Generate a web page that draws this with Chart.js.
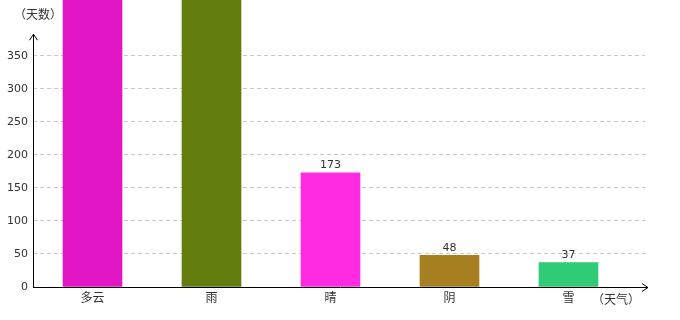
<!DOCTYPE html>
<html>
<head>
<meta charset="utf-8">
<script src="https://cdn.jsdelivr.net/npm/chart.js@4"></script>
<style>
  html, body { margin: 0; padding: 0; background: #fff; }
  #wrap { width: 680px; height: 320px; }
</style>
</head>
<body>
<div id="wrap"><canvas id="weather-chart" width="680" height="320"></canvas></div>
<script>
// weather categories and number of days
const categories = ["多云", "雨", "晴", "阴", "雪"];
const days = [460, 440, 173, 48, 37];
const barColors = ["#E316C6", "#627D0E", "#FF2BE3", "#A67F20", "#2FCB76"];
const yTicks = [0, 50, 100, 150, 200, 250, 300, 350];

const FONT = "'DejaVu Sans', 'Noto Sans CJK SC', sans-serif";
const CJK_FONT = "'Noto Sans CJK SC', sans-serif";
const AXIS_TOP = 383; // value where the y axis arrow ends

// axes with arrows, axis titles, and value labels above bars
const decorPlugin = {
  id: "decor",
  afterDatasetsDraw(chart) {
    const ctx = chart.ctx;
    const y = chart.scales.y;
    const left = chart.chartArea.left;
    const bottom = y.getPixelForValue(0);
    const top = y.getPixelForValue(AXIS_TOP);
    const right = chart.chartArea.right + 3;

    ctx.save();
    ctx.strokeStyle = "#000";
    ctx.lineWidth = 1;
    ctx.beginPath();
    ctx.moveTo(left + 0.5, bottom);
    ctx.lineTo(left + 0.5, top);
    ctx.moveTo(left - 3.5, top + 6);
    ctx.lineTo(left + 0.5, top);
    ctx.lineTo(left + 4.5, top + 6);
    ctx.moveTo(left, bottom + 0.5);
    ctx.lineTo(right, bottom + 0.5);
    ctx.moveTo(right - 6, bottom - 3.5);
    ctx.lineTo(right, bottom + 0.5);
    ctx.lineTo(right - 6, bottom + 4.5);
    ctx.stroke();

    ctx.fillStyle = "#333";
    ctx.font = "12px " + CJK_FONT;
    ctx.textBaseline = "middle";
    ctx.textAlign = "left";
    ctx.fillText("（天数）", 14, 14);
    ctx.fillText("（天气）", 592, 299);

    // value labels for the bars that fit inside the axis
    ctx.font = "11px " + FONT;
    ctx.textAlign = "center";
    ctx.textBaseline = "bottom";
    chart.getDatasetMeta(0).data.forEach((bar, i) => {
      if (days[i] <= AXIS_TOP) {
        ctx.fillText(String(days[i]), bar.x, bar.y - 2);
      }
    });
    ctx.restore();
  }
};

new Chart(document.getElementById("weather-chart"), {
  type: "bar",
  data: {
    datasets: [{
      data: days.map((v, i) => ({ x: i, y: v })),
      backgroundColor: barColors,
      borderWidth: 0,
      barThickness: 59
    }]
  },
  options: {
    responsive: false,
    animation: false,
    layout: { padding: { top: 0, right: 35, left: 0, bottom: 0 } },
    plugins: {
      legend: { display: false },
      tooltip: { enabled: false }
    },
    scales: {
      x: {
        type: "linear",
        offset: false,
        min: -0.5,
        max: 4.643,
        afterBuildTicks(scale) {
          scale.ticks = categories.map((c, i) => ({ value: i }));
        },
        afterFit(scale) {
          scale.height = 33;
          scale.paddingLeft = 0;
          scale.paddingRight = 0;
        },
        grid: { display: false, drawTicks: false },
        border: { display: false },
        ticks: {
          padding: 3,
          maxRotation: 0,
          autoSkip: false,
          color: "#333",
          font: { family: CJK_FONT, size: 12 },
          callback: (v) => categories[v]
        }
      },
      y: {
        min: 0,
        max: 434.8,
        afterBuildTicks(scale) {
          scale.ticks = yTicks.map((v) => ({ value: v }));
        },
        afterFit(scale) {
          scale.width = 33;
          scale.paddingTop = 0;
          scale.paddingBottom = 0;
        },
        grid: {
          drawTicks: false,
          color: (c) => c.tick && c.tick.value === 0 ? "rgba(0,0,0,0)" : "#c8c8c8",
          tickLength: 0
        },
        border: { display: false, dash: [4, 3] },
        ticks: {
          padding: 5,
          color: "#333",
          font: { family: FONT, size: 11 }
        }
      }
    }
  },
  plugins: [decorPlugin]
});
</script>
</body>
</html>
